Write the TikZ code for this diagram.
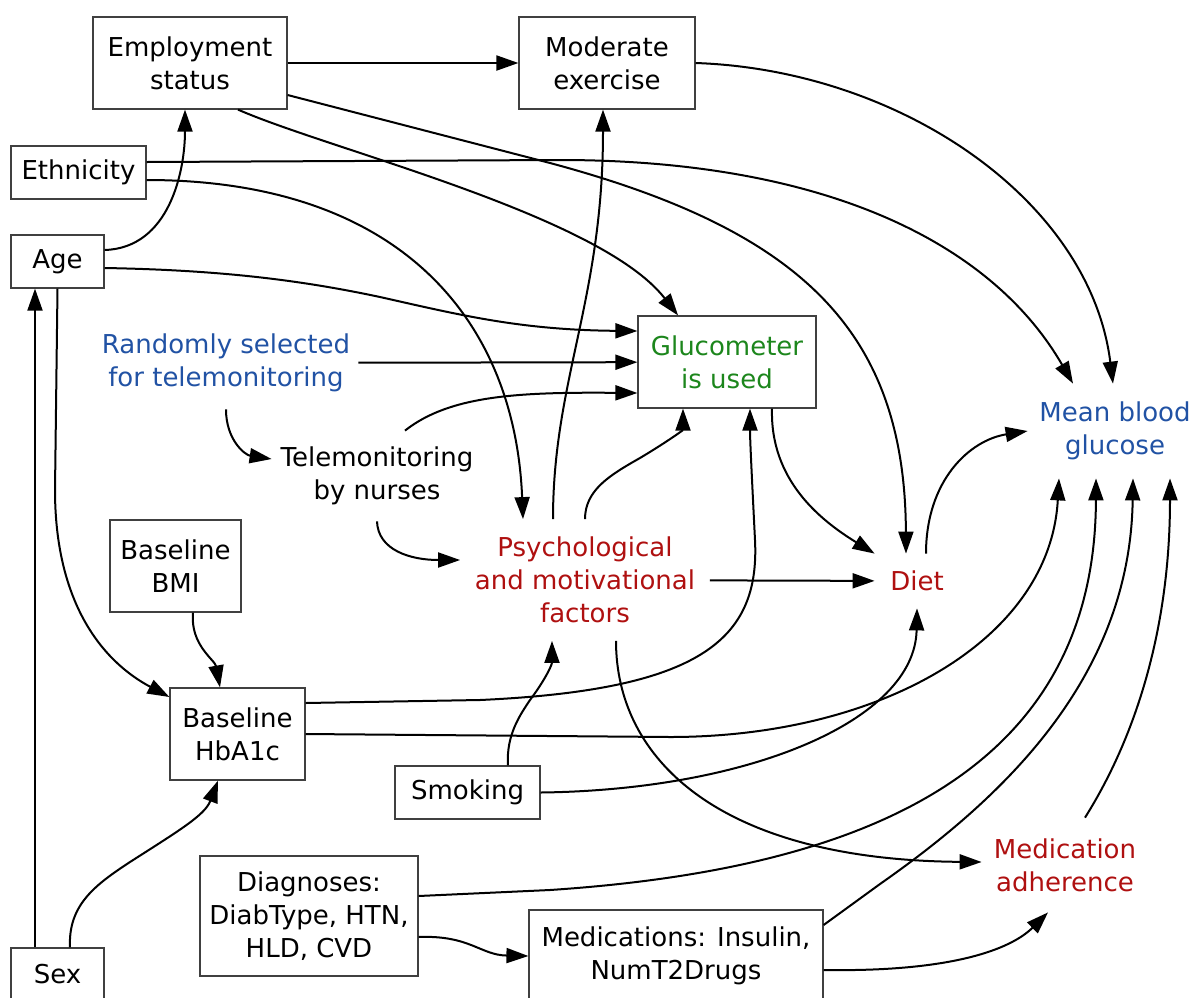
\documentclass[tikz,border=0pt]{standalone}
\usepackage{fontspec}
\setmainfont{DejaVu Sans}
\usetikzlibrary{arrows.meta}
\definecolor{outblue}{RGB}{33,82,164}
\definecolor{expgreen}{RGB}{28,134,28}
\definecolor{medred}{RGB}{175,16,16}

\begin{document}
\begin{tikzpicture}[x=0.5pt, y=-0.5pt,
		every node/.style={font=\fontsize{13pt}{16.5pt}\selectfont, align=center, inner sep=0pt},
		box/.style={draw=black!75, line width=0.6pt},
		edge/.style={-{Triangle[length=11pt,width=7.5pt]}, line width=1pt}]
		\useasboundingbox (0,0) rectangle (1194,997);
		
		\node [box, minimum width=97pt, minimum height=46pt] (emp) at (190,63) {Employment\\status};
		\node [box, minimum width=88pt, minimum height=46pt] (exer) at (607,63) {Moderate\\exercise};
		\node [box, minimum width=67.5pt, minimum height=26.5pt] (eth) at (78.5,172.5) {Ethnicity};
		\node [box, minimum width=46.5pt, minimum height=26.5pt] (age) at (57.5,261.5) {Age};
		\node [box, minimum width=89pt, minimum height=46pt, text=expgreen] (gluc) at (727,362) {Glucometer\\is used};
		\node [box, minimum width=65.5pt, minimum height=46pt] (bmi) at (175.5,566) {Baseline\\BMI};
		\node [box, minimum width=67.5pt, minimum height=46pt] (hba) at (237.5,734) {Baseline\\HbA1c};
		\node [box, minimum width=72.5pt, minimum height=26.5pt] (smok) at (467.5,792.5) {Smoking};
		\node [box, minimum width=109pt, minimum height=60pt] (diag) at (309,916) {Diagnoses:\\DiabType, HTN,\\HLD, CVD};
		\node [box, minimum width=147pt, minimum height=46pt] (meds) at (676,956) {Medications: Insulin,\\NumT2Drugs};
		\node [box, minimum width=46.5pt, minimum height=26.5pt] (sex) at (57.5,974.5) {Sex};
		
		\node [minimum width=132pt, minimum height=46pt, text=outblue] (rand) at (226,363) {Randomly selected\\for telemonitoring};
		\node [minimum width=105pt, minimum height=45pt] (tele) at (377,476) {Telemonitoring\\by nurses};
		\node [minimum width=124.5pt, minimum height=60.5pt, text=medred] (psy) at (585,580) {Psychological\\and motivational\\factors};
		\node [minimum width=42pt, minimum height=27pt, text=medred] (diet) at (917,581) {Diet};
		\node [minimum width=87pt, minimum height=47pt, text=outblue] (mbg) at (1115,431) {Mean blood\\glucose};
		\node [minimum width=83pt, minimum height=47pt, text=medred] (madh) at (1065,865) {Medication\\adherence};
		
		\draw [edge] (emp) -- (exer);
		\draw [edge] ([xshift=24pt]emp.south) .. controls (330,150) and (600,215) .. ([xshift=-24.5pt]gluc.north);
		\draw [edge] ([yshift=-16pt]emp.east) -- (550,163) .. controls (800,230) and (905,330) .. ([xshift=-5.5pt]diet.north);
		
		\draw [edge] ([yshift=5.25pt]eth.east) -- (560,160) .. controls (820,160) and (990,240) .. ([xshift=-21pt]mbg.north);
		\draw [edge] ([yshift=-3.75pt]eth.east) .. controls (400,180) and (515,320) .. ([xshift=-31pt]psy.north);
		
		\draw [edge] ([yshift=5.75pt]age.east) .. controls (170,248) and (185,170) .. ([xshift=-2.5pt]emp.south);
		\draw [edge] ([yshift=-3.25pt]age.east) .. controls (220,270) and (300,280) .. (380,297) .. controls (460,315) and (520,330) .. ([yshift=15.5pt]gluc.west);
		\draw [edge] (age.south) -- (55,490) .. controls (55,600) and (100,660) .. ([yshift=18.5pt]hba.west);
		
		\draw [edge] ([xshift=-11.25pt]sex.north) -- ([xshift=-11.25pt]age.south);
		\draw [edge] ([xshift=6.25pt]sex.north) .. controls (68,905) and (95,885) .. (130,862) .. controls (180,830) and (205,815) .. ([xshift=-9.75pt]hba.south);
		
		\draw [edge] (exer.east) .. controls (900,70) and (1090,200) .. ([xshift=-1pt]mbg.north);
		
		\draw [edge] (rand) -- (gluc);
		\draw [edge] (rand.south) .. controls (226,440) and (245,455) .. ([yshift=8.5pt]tele.west);
		\draw [edge] ([xshift=14pt]tele.north) .. controls (450,395) and (520,392) .. ([yshift=-15.5pt]gluc.west);
		\draw [edge] (tele.south) .. controls (378,550) and (410,560) .. ([yshift=10pt]psy.west);
		
		\draw [edge] ([xshift=-16pt]psy.north) .. controls (553,380) and (603,300) .. ([xshift=-2pt]exer.south);
		\draw [edge] (psy.north) .. controls (585,490) and (610,475) .. (640,458) .. controls (670,440) and (683,430) .. ([xshift=-22pt]gluc.south);
		\draw [edge] (psy) -- (diet);
		\draw [edge] ([xshift=15.5pt]psy.south) .. controls (616,760) and (720,860) .. ([yshift=1.5pt]madh.west);
		
		\draw [edge] ([xshift=22.5pt]gluc.south) .. controls (770,480) and (820,520) .. (diet.north west);
		\draw [edge] ([xshift=4.5pt]diet.north) .. controls (926,480) and (970,440) .. (mbg.west);
		
		\draw [edge] ([xshift=8.75pt]bmi.south) .. controls (190,645) and (215,660) .. ([xshift=-8.75pt]hba.north);
		\draw [edge] ([yshift=15.5pt]hba.east) -- (480,700) .. controls (700,690) and (760,640) .. (755,540) .. controls (752,480) and (750,440) .. ([xshift=11.5pt]gluc.south);
		\draw [edge] (hba.east) -- (670,737) .. controls (880,737) and (1050,640) .. ([xshift=-28pt]mbg.south);
		
		\draw [edge] ([xshift=20.25pt]smok.north) .. controls (506,735) and (520,715) .. (530,700) .. controls (545,680) and (552,665) .. ([xshift=-16.5pt]psy.south);
		\draw [edge] (smok.east) .. controls (750,790) and (915,720) .. (diet.south);
		
		\draw [edge] ([yshift=10pt]diag.east) -- (550,890) .. controls (850,870) and (1095,780) .. ([xshift=-9.5pt]mbg.south);
		\draw [edge] ([yshift=-10.5pt]diag.east) .. controls (470,935) and (480,955) .. (meds.west);
		\draw [edge] ([yshift=15.5pt]meds.east) -- (880,884) .. controls (1000,800) and (1130,680) .. ([xshift=9pt]mbg.south);
		\draw [edge] ([yshift=-7pt]meds.east) .. controls (950,972) and (1010,950) .. ([xshift=-8.5pt]madh.south);
		\draw [edge] ([xshift=10pt]madh.north) .. controls (1140,730) and (1170,620) .. ([xshift=27.5pt]mbg.south);
		
	\end{tikzpicture}
\end{document}
